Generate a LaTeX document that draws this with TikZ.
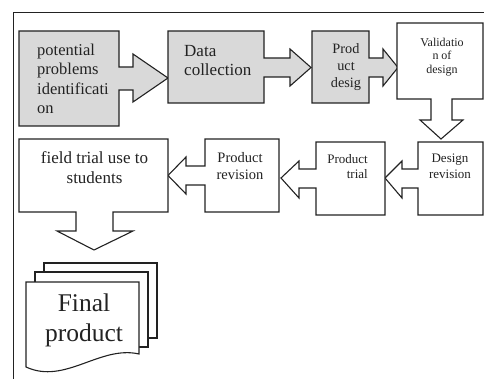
\documentclass[tikz,border=0pt]{standalone}
\usepackage{fontspec}
\setmainfont{Liberation Serif}
\definecolor{boxfill}{HTML}{D9D9D9}
\definecolor{ink}{HTML}{222222}
\tikzset{
  callout/.style={draw=ink, line width=1.1pt, line join=miter},
  graybox/.style={callout, fill=boxfill},
  whitebox/.style={callout, fill=white},
  lbl/.style={inner sep=0pt, text=ink},
  frameline/.style={draw=ink, line width=0.9pt},
}
\begin{document}
\begin{tikzpicture}[x=1pt, y=-1pt]
\useasboundingbox (0,0) rectangle (484,379);
% outer frame
\draw[frameline] (13,379) -- (13,12) -- (484,12);
% row 1
\path[graybox] (19,31) -- (119,31) -- (119,67) -- (133,67) -- (133,54) -- (168,78) -- (133,102) -- (133,90) -- (119,90) -- (119,126) -- (19,126) -- cycle;
\path[graybox] (168,31) -- (264,31) -- (264,58) -- (290,58) -- (290,49) -- (311,67.5) -- (290,86) -- (290,77) -- (264,77) -- (264,103) -- (168,103) -- cycle;
\path[graybox] (312,31) -- (369,31) -- (369,58) -- (383,58) -- (383,49) -- (398,67.5) -- (383,86) -- (383,77) -- (369,77) -- (369,103) -- (312,103) -- cycle;
\path[whitebox] (397,23) -- (483,23) -- (483,99) -- (452,99) -- (452,120) -- (463,120) -- (441,139) -- (420,120) -- (431,120) -- (431,99) -- (397,99) -- cycle;
% row 2
\path[whitebox] (483,142) -- (418,142) -- (418,169) -- (402,169) -- (402,161) -- (385,178) -- (402,198) -- (402,188) -- (418,188) -- (418,215) -- (483,215) -- cycle;
\path[whitebox] (385,142) -- (316,142) -- (316,169) -- (299,169) -- (299,161) -- (281,178) -- (299,198) -- (299,188) -- (316,188) -- (316,215) -- (385,215) -- cycle;
\path[whitebox] (279,139) -- (205,139) -- (205,166) -- (186,166) -- (186,157) -- (168,175.5) -- (186,194) -- (186,185) -- (205,185) -- (205,212) -- (279,212) -- cycle;
\path[whitebox] (19,139) -- (168,139) -- (168,212) -- (113,212) -- (113,231) -- (133,231) -- (94,250) -- (57,231) -- (76,231) -- (76,212) -- (19,212) -- cycle;
% final product documents
\path[whitebox] (44,263) rectangle (157,338);
\path[whitebox] (35,272) rectangle (148,347);
\path[whitebox] (26,282) -- (139,282) -- (139,354) .. controls (100,345) and (65,385) .. (26,367) -- cycle;
% texts
\node[lbl, anchor=north west, align=left, font=\fontsize{16.5}{19.4}\selectfont] (t1) at (37,43.7) {potential\\problems\\identificati\\on};
\node[lbl, anchor=north west, align=left, font=\fontsize{17}{19}\selectfont] (t2) at (184,44.7) {Data\\collection};
\node[lbl, anchor=north, align=center, font=\fontsize{14.3}{17.3}\selectfont] (t3) at (346,43.2) {Prod\\uct\\desig};
\node[lbl, anchor=north, align=center, font=\fontsize{12}{13.5}\selectfont] (t4) at (442,37.5) {Validatio\\n of\\design};
\node[lbl, anchor=north, align=center, font=\fontsize{13}{15.5}\selectfont] (t5) at (450,154) {Design\\revision};
\node[lbl, anchor=north east, align=right, font=\fontsize{13}{15.5}\selectfont] (t6) at (368,154) {Product\\trial};
\node[lbl, anchor=north, align=center, font=\fontsize{14.5}{17}\selectfont] (t7) at (240,152) {Product\\revision};
\node[lbl, anchor=north, align=center, font=\fontsize{17}{20}\selectfont] (t8) at (94.5,151.4) {field trial use to\\students};
\node[lbl, anchor=north, align=center, font=\fontsize{25.5}{30}\selectfont] (t9) at (84,293.6) {Final\\product};
\end{tikzpicture}
\end{document}
